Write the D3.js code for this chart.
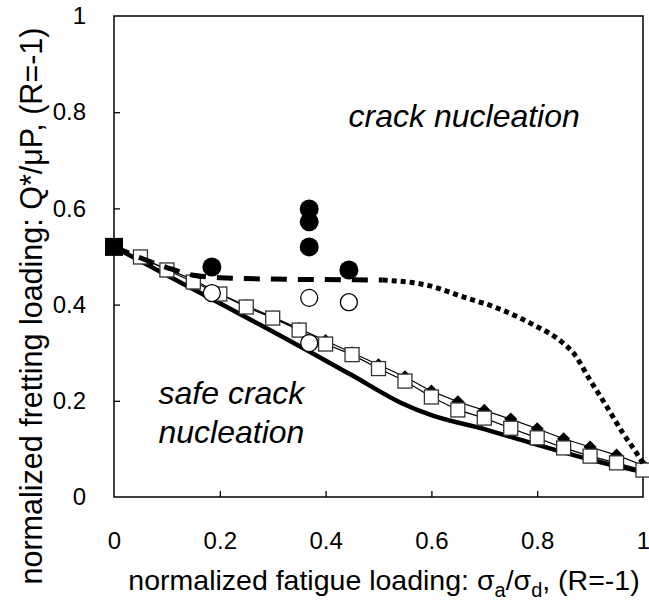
<!DOCTYPE html>
<html><head><meta charset="utf-8">
<script src="https://cdn.jsdelivr.net/npm/d3@7"></script>
<style>body{margin:0;background:#fff;} text{font-family:"Liberation Sans",Arial,Helvetica,sans-serif;}</style>
</head><body><svg id="c" width="649" height="607"></svg>
<script>
// ---- data ----
const xTicks = [0, 0.2, 0.4, 0.6, 0.8, 1];
const yTicks = [0, 0.2, 0.4, 0.6, 0.8, 1];
const xTickLabels = ["0", "0.2", "0.4", "0.6", "0.8", "1"];
const yTickLabels = ["0", "0.2", "0.4", "0.6", "0.8", "1"];

const modelX = [0.05,0.1,0.15,0.2,0.25,0.3,0.35,0.4,0.45,0.5,0.55,0.6,0.65,0.7,0.75,0.8,0.85,0.9,0.95,1.0];
const openSquareY = [0.499,0.472,0.447,0.422,0.395,0.372,0.347,0.318,0.296,0.267,0.241,0.208,0.181,0.164,0.143,0.123,0.102,0.085,0.071,0.056];
const filledDiamondY = [0.497,0.474,0.452,0.422,0.398,0.374,0.350,0.325,0.300,0.275,0.250,0.220,0.198,0.180,0.162,0.142,0.121,0.104,0.087,0.066];

const solidX = [0, 0.1, 0.2, 0.3, 0.37, 0.45, 0.544, 0.6, 0.7, 0.75, 0.85, 0.9, 1.0];
const solidY = [0.52, 0.461, 0.403, 0.344, 0.302, 0.253, 0.195, 0.17, 0.141, 0.125, 0.093, 0.078, 0.052];

const dashedX = [0, 0.1, 0.15, 0.2, 0.3, 0.4, 0.508];
const dashedY = [0.52, 0.477, 0.461, 0.456, 0.453, 0.452, 0.451];

const dottedX = [0.508, 0.597, 0.66, 0.724, 0.786, 0.849, 0.868, 0.9, 0.932, 0.962, 0.988, 1.0];
const dottedY = [0.451, 0.439, 0.416, 0.393, 0.362, 0.32, 0.30, 0.243, 0.187, 0.133, 0.091, 0.07];

const filledCircleX = [0.185, 0.369, 0.369, 0.369, 0.444];
const filledCircleY = [0.478, 0.599, 0.572, 0.52, 0.472];
const openCircleX = [0.185, 0.369, 0.369, 0.444];
const openCircleY = [0.424, 0.32, 0.414, 0.405];

const filledSquareX = [0];
const filledSquareY = [0.52];

const xLabelParts = [["normalized fatigue loading: σ",""],["a","sub"],["/σ",""],["d","sub"],[", (R=-1)",""]];
const yLabel = "normalized fretting loading: Q*/μP, (R=-1)";
const regionLabels = [
  {text:"crack nucleation", x:0.662, y:0.769},
  {text:"safe crack", x:0.222, y:0.193},
  {text:"nucleation", x:0.222, y:0.112}
];

// ---- chart ----
const svg = d3.select("#c");
const L = 114, R = 643, T = 16, B = 497;
const x = d3.scaleLinear().domain([0,1]).range([L,R]);
const y = d3.scaleLinear().domain([0,1]).range([B,T]);
const zip = (xs, ys) => xs.map((v,i)=>[v, ys[i]]);
const line = d3.line().x(d=>x(d[0])).y(d=>y(d[1]));
const curve = d3.line().x(d=>x(d[0])).y(d=>y(d[1])).curve(d3.curveMonotoneX);

// frame
svg.append("rect").attr("x",L).attr("y",T).attr("width",R-L).attr("height",B-T)
  .attr("fill","none").attr("stroke","#000").attr("stroke-width",1.5);

// axes with inward ticks
const gx = svg.append("g").attr("transform",`translate(0,${B})`)
  .call(d3.axisBottom(x).tickValues(xTicks).tickSize(-6).tickPadding(35).tickFormat((d,i)=>xTickLabels[i]));
const gy = svg.append("g").attr("transform",`translate(${L},0)`)
  .call(d3.axisLeft(y).tickValues(yTicks).tickSize(-6).tickPadding(28).tickFormat((d,i)=>yTickLabels[i]));
[gx,gy].forEach(g=>{
  g.select(".domain").remove();
  g.selectAll("line").attr("stroke","#000").attr("stroke-width",1.3);
  g.selectAll("text").attr("font-size",24).attr("fill","#000")
   .attr("font-family",'"Liberation Sans",Arial,sans-serif');
});
gx.selectAll(".tick").filter(d=>d===0||d===1).select("line").remove();
gy.selectAll(".tick").filter(d=>d===0||d===1).select("line").remove();

// solid thick line
svg.append("path").datum(zip(solidX,solidY)).attr("d",curve)
  .attr("fill","none").attr("stroke","#000").attr("stroke-width",4.5).attr("stroke-linejoin","round");

// thin lines
svg.append("path").datum(zip(modelX,filledDiamondY)).attr("d",line)
  .attr("fill","none").attr("stroke","#000").attr("stroke-width",1.2);
svg.append("path").datum(zip(modelX,openSquareY)).attr("d",line)
  .attr("fill","none").attr("stroke","#000").attr("stroke-width",1.2);

// filled diamonds
svg.append("g").selectAll("path").data(zip(modelX,filledDiamondY)).join("path")
  .attr("transform",d=>`translate(${x(d[0])},${y(d[1])})`)
  .attr("d",d3.symbol().type(d3.symbolDiamond2).size(110)())
  .attr("fill","#000");
// open squares
svg.append("g").selectAll("rect").data(zip(modelX,openSquareY)).join("rect")
  .attr("x",d=>x(d[0])-7).attr("y",d=>y(d[1])-7).attr("width",14).attr("height",14)
  .attr("fill","#fff").attr("stroke","#333").attr("stroke-width",1.3);

// dashed line
svg.append("path").datum(zip(dashedX,dashedY)).attr("d",curve)
  .attr("fill","none").attr("stroke","#000").attr("stroke-width",5).attr("stroke-dasharray","16,11");
// dotted curve
svg.append("path").datum(zip(dottedX,dottedY)).attr("d",curve)
  .attr("fill","none").attr("stroke","#000").attr("stroke-width",5).attr("stroke-dasharray","5,4");

// filled square
svg.append("g").selectAll("rect").data(zip(filledSquareX,filledSquareY)).join("rect")
  .attr("x",d=>x(d[0])-9).attr("y",d=>y(d[1])-9).attr("width",18).attr("height",18).attr("fill","#000");

// circles
svg.append("g").selectAll("circle").data(zip(openCircleX,openCircleY)).join("circle")
  .attr("cx",d=>x(d[0])).attr("cy",d=>y(d[1])).attr("r",8.5)
  .attr("fill","#fff").attr("stroke","#000").attr("stroke-width",1.3);
svg.append("g").selectAll("circle").data(zip(filledCircleX,filledCircleY)).join("circle")
  .attr("cx",d=>x(d[0])).attr("cy",d=>y(d[1])).attr("r",9.5).attr("fill","#000");

// region labels
svg.append("g").selectAll("text").data(regionLabels).join("text")
  .attr("x",d=>x(d.x)).attr("y",d=>y(d.y)).attr("text-anchor","middle")
  .attr("font-size",32).attr("font-style","italic").text(d=>d.text);

// x label
const xl = svg.append("text").attr("x",384).attr("y",590).attr("text-anchor","middle").attr("font-size",28.5);
xLabelParts.forEach((p,i)=>{
  const t = xl.append("tspan").text(p[0]);
  if(p[1]==="sub") t.attr("font-size",20).attr("dy",7);
  else if(i>0 && xLabelParts[i-1][1]==="sub") t.attr("dy",-7);
});

// y label
svg.append("text").attr("transform",`translate(42,306) rotate(-90)`)
  .attr("text-anchor","middle").attr("font-size",30.5).text(yLabel);
</script></body></html>
